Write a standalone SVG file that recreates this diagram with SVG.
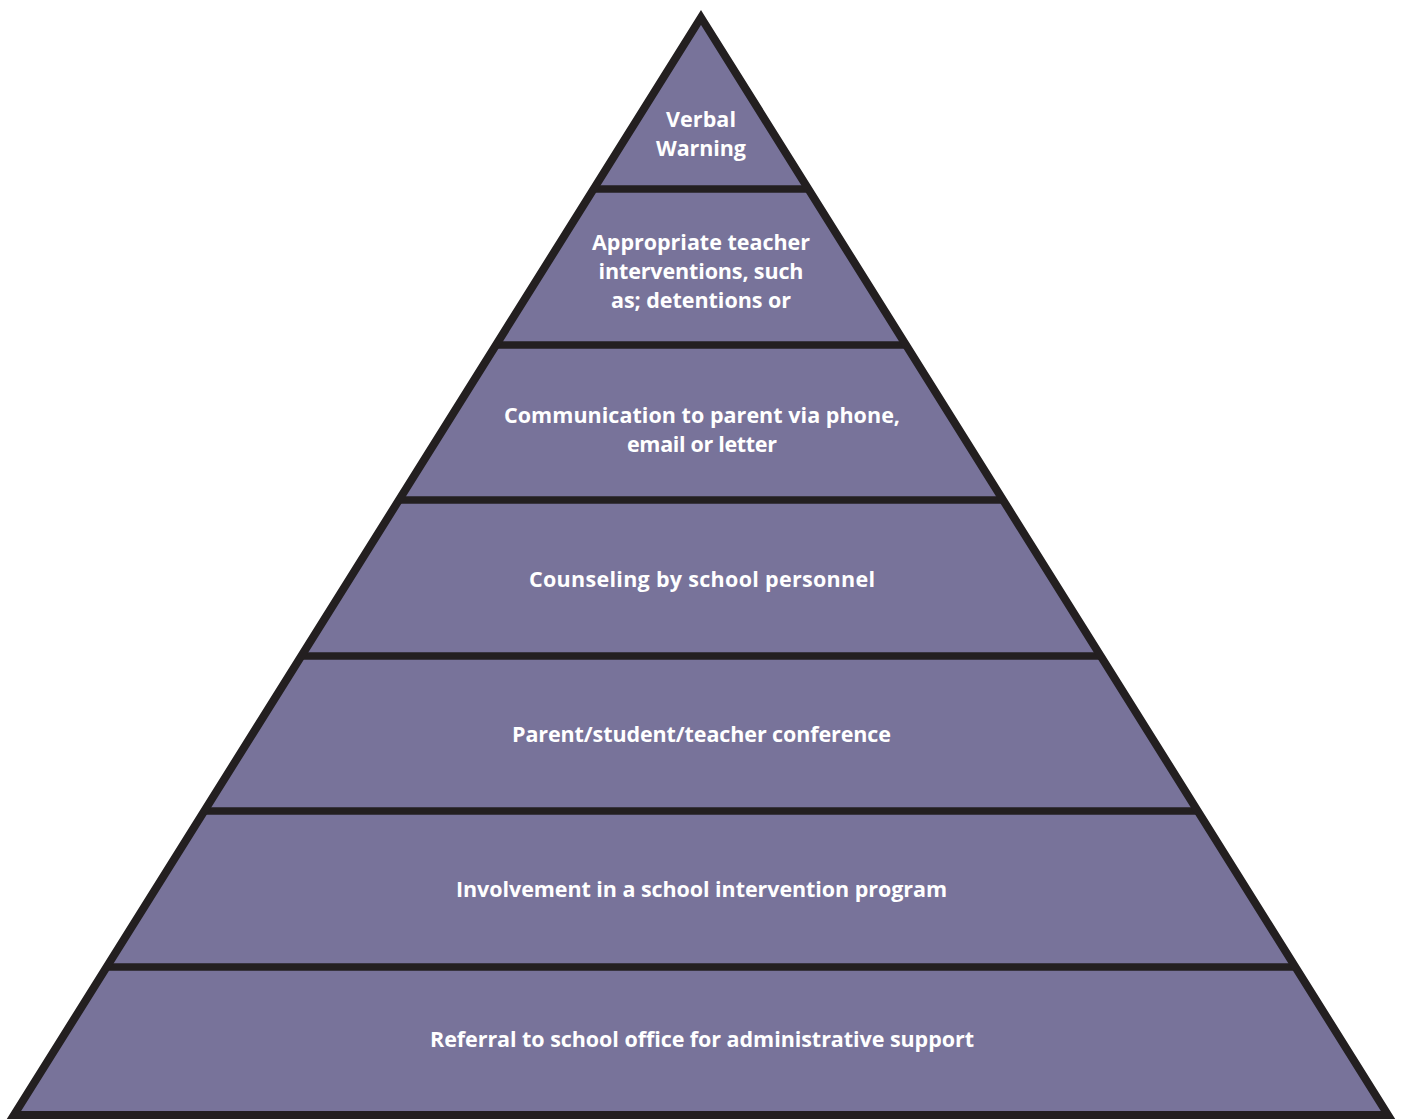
<svg xmlns="http://www.w3.org/2000/svg" width="1401" height="1119" viewBox="0 0 1401 1119">
<style>
.layer{fill:#78739a;stroke:none}
.lbl{font-family:"Open Sans","Liberation Sans",sans-serif;font-weight:700;font-size:21.5px;fill:#ffffff;text-anchor:middle;font-variant-ligatures:none}
.edge{fill:none;stroke:#231f20;stroke-width:8;stroke-linejoin:miter;stroke-miterlimit:10}
.div{stroke:#231f20;stroke-width:7.5}
</style>
<rect width="1401" height="1119" fill="#ffffff"/>
<g id="level1">
<polygon class="layer" points="701,17.5 808.4,189 593.6,189"/>
<text class="lbl" x="701" y="127" textLength="70">Verbal</text>
<text class="lbl" x="701" y="156" textLength="90">Warning</text>
</g>
<g id="level2">
<polygon class="layer" points="593.6,189 808.4,189 906,345 496,345"/>
<text class="lbl" x="701" y="250" textLength="218">Appropriate teacher</text>
<text class="lbl" x="701" y="279" textLength="205">interventions, such</text>
<text class="lbl" x="701" y="308" textLength="180">as; detentions or</text>
</g>
<g id="level3">
<polygon class="layer" points="496,345 906,345 1003,500 399,500"/>
<text class="lbl" x="702" y="423" textLength="396">Communication to parent via phone,</text>
<text class="lbl" x="702" y="452" textLength="150">email or letter</text>
</g>
<g id="level4">
<polygon class="layer" points="399,500 1003,500 1100.7,656 301.3,656"/>
<text class="lbl" x="702" y="587" textLength="346">Counseling by school personnel</text>
</g>
<g id="level5">
<polygon class="layer" points="301.3,656 1100.7,656 1197.7,811 204.3,811"/>
<text class="lbl" x="701.5" y="742" textLength="379">Parent/student/teacher conference</text>
</g>
<g id="level6">
<polygon class="layer" points="204.3,811 1197.7,811 1295.4,967 106.6,967"/>
<text class="lbl" x="701.5" y="897" textLength="491">Involvement in a school intervention program</text>
</g>
<g id="level7">
<polygon class="layer" points="106.6,967 1295.4,967 1388,1115 14,1115"/>
<text class="lbl" x="702" y="1047" textLength="544">Referral to school office for administrative support</text>
</g>
<g id="connectors">
<line class="div" x1="593.6" y1="189" x2="808.4" y2="189"/>
<line class="div" x1="496" y1="345" x2="906" y2="345"/>
<line class="div" x1="399" y1="500" x2="1003" y2="500"/>
<line class="div" x1="301.3" y1="656" x2="1100.7" y2="656"/>
<line class="div" x1="204.3" y1="811" x2="1197.7" y2="811"/>
<line class="div" x1="106.6" y1="967" x2="1295.4" y2="967"/>
<polygon class="edge" points="701,17.5 1388,1115 14,1115"/>
</g>
</svg>
